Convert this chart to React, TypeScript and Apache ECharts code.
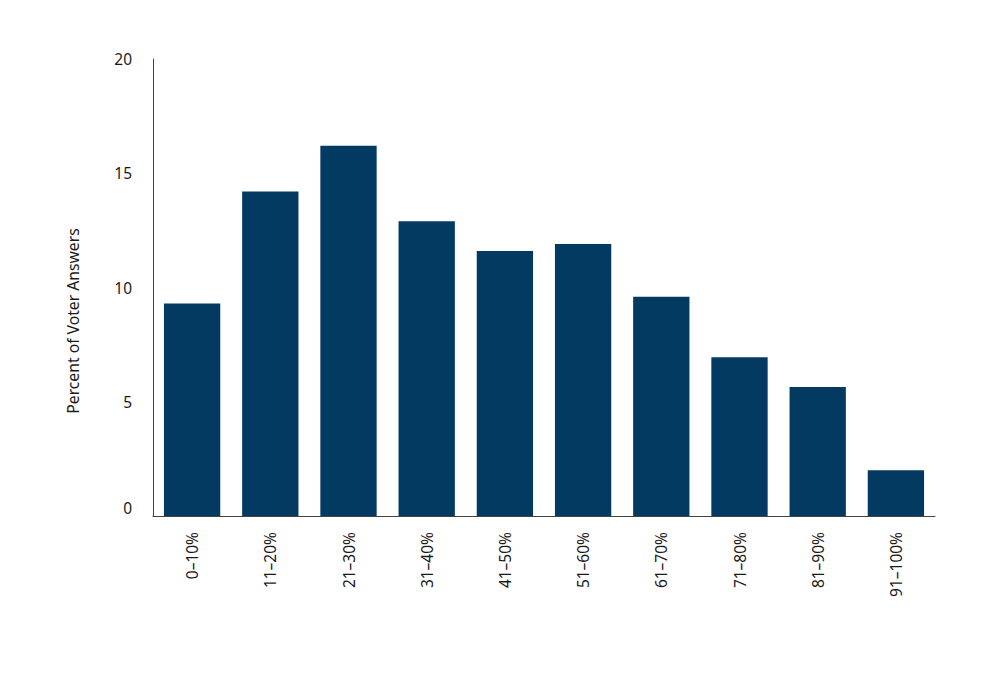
import React, { useEffect, useRef } from "react";
import * as echarts from "echarts";

const categories = ["0–10%", "11–20%", "21–30%", "31–40%", "41–50%", "51–60%", "61–70%", "71–80%", "81–90%", "91–100%"];
const values = [9.3, 14.2, 16.2, 12.9, 11.6, 11.9, 9.6, 6.95, 5.65, 2.0];
const yTicks = { min: 0, max: 20, interval: 5 };
const yTitle = "Percent of Voter Answers";

export default function App() {
  const ref = useRef<HTMLDivElement>(null);
  useEffect(() => {
    const chart = echarts.init(ref.current!, null, { renderer: "svg" });
    const font = "'Noto Sans', 'Open Sans', sans-serif";
    chart.setOption({
      animation: false,
      textStyle: { fontFamily: font },
      grid: { left: 153, right: 65, top: 59, bottom: 169, containLabel: false },
      graphic: [
        {
          type: "text",
          x: 73,
          y: 321,
          rotation: Math.PI / 2,
          style: {
            text: yTitle,
            fontFamily: font,
            fontSize: 15.7,
            fill: "#1a1a1a",
            align: "center",
            verticalAlign: "middle",
          },
        },
      ],
      xAxis: {
        type: "category",
        data: categories,
        axisLine: { lineStyle: { color: "#444", width: 1 } },
        axisTick: { show: false },
        axisLabel: { rotate: 90, margin: 16, fontSize: 15.5, color: "#1a1a1a", fontFamily: font },
      },
      yAxis: {
        type: "value",
        min: yTicks.min,
        max: yTicks.max,
        interval: yTicks.interval,
        splitLine: { show: false },
        axisTick: { show: false },
        axisLine: { show: true, lineStyle: { color: "#444", width: 1 } },
        axisLabel: {
          margin: 21,
          fontSize: 15.5,
          color: "#1a1a1a",
          fontFamily: font,
          formatter: (v: number) => (v === 0 ? "{z|0}" : String(v)),
          rich: { z: { fontSize: 15.5, color: "#1a1a1a", fontFamily: font, padding: [0, 0, 16, 0] } },
        },
      },
      series: [
        {
          type: "bar",
          data: values,
          barCategoryGap: "28%",
          itemStyle: { color: "#023A62" },
        },
      ],
    });
    return () => chart.dispose();
  }, []);
  return <div ref={ref} style={{ width: 1000, height: 685, position: "absolute", left: 0, top: 0 }} />;
}
